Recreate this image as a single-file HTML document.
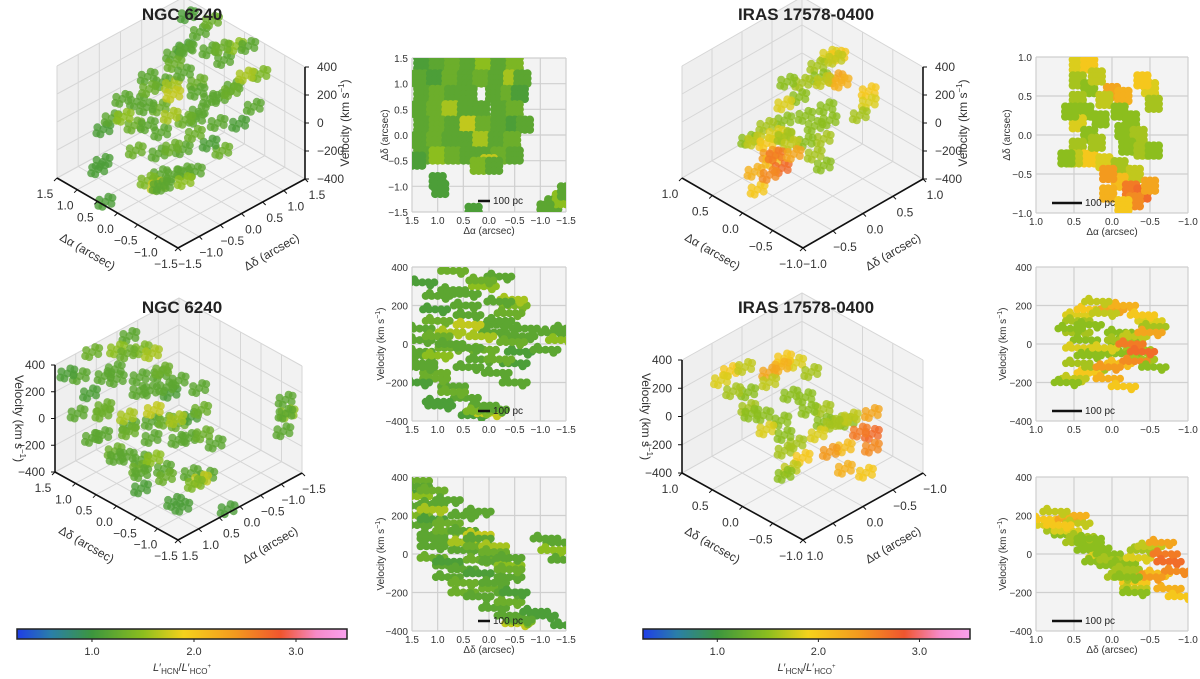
<!DOCTYPE html>
<html><head><meta charset="utf-8">
<style>
html,body{margin:0;padding:0;background:#fff;}
svg{display:block;font-family:"Liberation Sans",sans-serif;}
</style></head>
<body>
<svg id="fig" width="1200" height="679" viewBox="0 0 1200 679" xmlns="http://www.w3.org/2000/svg"></svg>
<script>
// ---------- DATA: NGC 6240 [dAlpha, dDelta, velocity, ratio] ----------
const ngcAlpha = [1.3,1.0,0.7,0.4,0.1,-0.2,-0.5, 1.35,1.05,0.75,0.45,0.15,-0.15,-0.45,-0.65, 1.3,1.0,0.7,0.4,-0.1,-0.4,-0.6, 1.35,1.05,0.75,0.45,0.15,-0.2,-0.5, 1.3,1.0,0.7,0.4,0.1,-0.2,-0.5,-0.7, 1.35,1.05,0.75,0.45,0.15,-0.15,-0.45, 1.3,1.0,0.7,0.4,0.1,-0.2,-0.5, 1.4,1.0,0.95,0.3,-1.25,-1.4,-1.5,-1.1,0.0,0.2,-0.1];
const ngcDelta = [1.4,1.4,1.4,1.4,1.4,1.4,1.4, 1.1,1.1,1.1,1.1,1.1,1.1,1.1,1.1, 0.8,0.8,0.8,0.8,0.8,0.8,0.8, 0.5,0.5,0.5,0.5,0.5,0.5,0.5, 0.2,0.2,0.2,0.2,0.2,0.2,0.2,0.2, -0.1,-0.1,-0.1,-0.1,-0.1,-0.1,-0.1, -0.4,-0.4,-0.4,-0.4,-0.4,-0.4,-0.4, -0.5,-0.9,-1.05,-1.5,-1.35,-1.25,-1.1,-1.45,-0.55,-0.6,-0.6];
const ngcVel = [320,250,380,150,300,350,200, 80,180,-20,260,330,100,230,40, -60,120,280,-120,60,160,-40, 20,-150,60,200,-80,120,-200, -100,40,-220,100,-30,220,-100,80, -40,-180,0,-280,40,-150,10, -120,-60,-250,-20,-320,-80,-200, -200,-300,-320,-370,60,20,80,-30,-360,-350,-340];
const ngcRatio = [1.1,1.2,1.3,1.2,1.5,1.2,1.4, 1.2,1.1,1.3,1.2,1.3,1.2,1.6,1.2, 1.2,1.3,1.2,1.2,1.2,1.3,1.1, 1.2,1.3,1.6,1.2,1.2,1.2,1.3, 1.2,1.3,1.2,1.7,1.3,1.2,1.1,1.2, 1.2,1.3,1.2,1.2,1.6,1.2,1.3, 1.2,1.5,1.3,1.2,1.2,1.3,1.2, 1.1,1.1,1.1,1.1,1.2,1.5,1.2,1.2,1.7,1.4,1.2];
// ---------- DATA: IRAS 17578-0400 ----------
const irasAlpha = [0.45,0.3,0.45,0.3,0.45,0.35,0.45,0.3,0.45,0.3,0.5,0.15,0.2,0.0,-0.15,0.1,-0.1,-0.25,-0.15,-0.35,-0.2,-0.4,-0.5,-0.4,-0.55,0.1,-0.1,-0.3,-0.1,-0.25,-0.4,-0.3,-0.5,0.05,-0.15,0.6,0.05,0.55,-0.55,0.2];
const irasDelta = [0.9,0.9,0.7,0.6,0.45,0.3,0.15,0.0,-0.15,-0.3,-0.3,0.2,-0.1,0.55,0.5,0.45,0.3,0.2,0.05,0.0,-0.15,-0.2,0.6,0.7,0.4,-0.35,-0.4,-0.5,-0.6,-0.7,-0.75,-0.85,-0.65,-0.75,-0.9,-0.3,-0.5,0.3,-0.2,0.75];
const irasVel = [150,180,120,100,60,20,-20,-60,-100,-150,-180,-40,-120,180,200,160,60,30,0,-30,-50,-80,120,150,90,-20,20,40,-100,0,-40,-90,60,-180,-220,-200,-120,80,-120,220];
const irasRatio = [1.8,2.0,1.6,1.5,1.6,1.5,1.8,1.5,1.6,2.0,1.7,1.5,1.6,2.3,2.2,1.7,1.5,1.5,1.5,1.6,1.5,1.6,1.8,2.0,1.6,1.8,1.6,1.7,2.1,2.6,2.7,2.5,2.3,2.2,2.0,1.5,2.4,1.5,1.5,1.7];
// ---------- Tick labels ----------
const ngcPosTicks = [-1.5,-1.0,-0.5,0.0,0.5,1.0,1.5];
const irasPosTicks = [-1.0,-0.5,0.0,0.5,1.0];
const velTicks = [-400,-200,0,200,400];
const cbarTicks = [1.0,2.0,3.0];

const NS='http://www.w3.org/2000/svg';
const svg=document.getElementById('fig');
function el(tag,attrs,parent){const e=document.createElementNS(NS,tag);for(const k in attrs)e.setAttribute(k,attrs[k]);(parent||svg).appendChild(e);return e;}
function fmt(v){return (v<0?'\u2212':'')+Math.abs(v).toFixed(1);}
function fmtI(v){return (v<0?'\u2212':'')+Math.abs(v);}

// colormap
const cmStops=[[0.27,[31,63,230]],[0.6,[42,127,168]],[1.0,[60,150,62]],[1.5,[140,190,30]],[1.9,[245,210,28]],[2.4,[243,154,30]],[2.85,[240,85,46]],[3.2,[246,138,200]],[3.5,[249,160,238]]];
function cmap(v){
  if(v<=cmStops[0][0])return 'rgb('+cmStops[0][1]+')';
  for(let i=1;i<cmStops.length;i++){if(v<=cmStops[i][0]){const a=cmStops[i-1],b=cmStops[i];const t=(v-a[0])/(b[0]-a[0]);return 'rgb('+a[1].map((c,j)=>Math.round(c+(b[1][j]-c)*t)).join(',')+')';}}
  return 'rgb('+cmStops[cmStops.length-1][1]+')';
}
// blob shapes (screen-space marker styling, not data)
const blob3D=[[0,0],[-6,-2],[6,2],[-3,5],[3,-5],[-7,4],[7,-4]];
const blobMap=[[-5,-5],[0,-5],[5,-5],[-5,0],[0,0],[5,0],[-5,5],[0,5],[5,5]];
const blobVel=[[-12,0],[-6,0],[0,0],[6,0],[12,0],[-8,-3],[8,3]];

function text(x,y,s,o,parent){o=o||{};const t=el('text',{x:x,y:y,'font-size':o.size||12,fill:o.fill||'#333','text-anchor':o.anchor||'middle'},parent);if(o.weight)t.setAttribute('font-weight',o.weight);if(o.rot!==undefined)t.setAttribute('transform','rotate('+o.rot+' '+x+' '+y+')');t.textContent=s;return t;}

// ---------- 3D panel ----------
function draw3D(cfg){
  const g=el('g',{});
  
  
  const F=cfg.F,L=cfg.L,R=cfg.R,H=cfg.H;
  const vL=[L[0]-F[0],L[1]-F[1]],vR=[R[0]-F[0],R[1]-F[1]];
  const P=(fl,fr,fv)=>[F[0]+fl*vL[0]+fr*vR[0],F[1]+fl*vL[1]+fr*vR[1]-fv*H];
  const pts=a=>a.map(p=>p[0].toFixed(1)+','+p[1].toFixed(1)).join(' ');
  el('polygon',{points:pts([P(0,0,0),P(1,0,0),P(1,1,0),P(0,1,0)]),fill:'#f4f4f4'},g);
  el('polygon',{points:pts([P(1,0,0),P(1,1,0),P(1,1,1),P(1,0,1)]),fill:'#efefef'},g);
  el('polygon',{points:pts([P(0,1,0),P(1,1,0),P(1,1,1),P(0,1,1)]),fill:'#f2f2f2'},g);
  const gl={stroke:'#d6d6d6','stroke-width':1,fill:'none'};
  const lt=cfg.leftTicks.map(cfg.lf), rt=cfg.rightTicks.map(cfg.rf), vt=velTicks.map(v=>(v+400)/800);
  lt.forEach(t=>{el('polyline',Object.assign({points:pts([P(t,0,0),P(t,1,0),P(t,1,1)])},gl),g);});
  rt.forEach(t=>{el('polyline',Object.assign({points:pts([P(0,t,0),P(1,t,0),P(1,t,1)])},gl),g);});
  vt.forEach(t=>{el('polyline',Object.assign({points:pts([P(1,0,t),P(1,1,t),P(0,1,t)])},gl),g);});
  const order=cfg.al.map((_,i)=>i).sort((i,j)=>(cfg.lfD(j)+cfg.rfD(j))-(cfg.lfD(i)+cfg.rfD(i)));
  order.forEach(i=>{
    const p=P(cfg.lfD(i),cfg.rfD(i),(cfg.vel[i]+400)/800);
    const pg=el('g',{fill:cmap(cfg.ratio[i]),'fill-opacity':0.8},g);
    
    
    blob3D.forEach(o=>el('circle',{cx:(p[0]+o[0]).toFixed(1),cy:(p[1]+o[1]).toFixed(1),r:4},pg));
  });
  const ax={stroke:'#111','stroke-width':1.6};
  el('line',Object.assign({x1:F[0],y1:F[1],x2:L[0],y2:L[1]},ax),g);
  el('line',Object.assign({x1:F[0],y1:F[1],x2:R[0],y2:R[1]},ax),g);
  const V=cfg.vSide==='right'?R:L;
  el('line',Object.assign({x1:V[0],y1:V[1],x2:V[0],y2:V[1]-H},ax),g);
  cfg.leftTicks.forEach(v=>{const t=cfg.lf(v);const p=P(t,0,0);
    el('line',{x1:p[0],y1:p[1],x2:p[0]-3,y2:p[1]+3,stroke:'#111','stroke-width':1},g);
    text(p[0]-12,p[1]+20,fmt(v),{},g);});
  cfg.rightTicks.forEach(v=>{const t=cfg.rf(v);const p=P(0,t,0);
    el('line',{x1:p[0],y1:p[1],x2:p[0]+3,y2:p[1]+3,stroke:'#111','stroke-width':1},g);
    text(p[0]+12,p[1]+20,fmt(v),{},g);});
  velTicks.forEach(v=>{const y=V[1]-(v+400)/800*H;
    if(cfg.vSide==='right'){el('line',{x1:V[0],y1:y,x2:V[0]+4,y2:y,stroke:'#111','stroke-width':1},g);text(V[0]+12,y+4,fmtI(v),{anchor:'start'},g);}
    else{el('line',{x1:V[0],y1:y,x2:V[0]-4,y2:y,stroke:'#111','stroke-width':1},g);text(V[0]-10,y+4,fmtI(v),{anchor:'end'},g);}
  });
  const m1=P(0.5,0,0),m2=P(0,0.5,0);
  text(m1[0]-32,m1[1]+42,cfg.leftLabel,{rot:30},g);
  text(m2[0]+32,m2[1]+42,cfg.rightLabel,{rot:-30},g);
  const vl=el('text',{'font-size':12,fill:'#333','text-anchor':'middle'},g);
  const vx=cfg.vSide==='right'?V[0]+44:V[0]-40, vy=V[1]-H/2;
  vl.setAttribute('transform','translate('+vx+' '+vy+') rotate('+(cfg.vSide==='right'?-90:90)+')');
  vl.innerHTML='Velocity (km s<tspan font-size="8" dy="-5">\u22121</tspan><tspan dy="5">)</tspan>';
  const tt=text(cfg.title[0],cfg.title[1],cfg.title[2],{size:17,weight:'bold',fill:'#222'},g);
  
  
}

const aN=v=>(v+1.5)/3, bN=v=>(1.5-v)/3, aI=v=>(v+1)/2, bI=v=>(1-v)/2;
draw3D({name:'ngc6240-3d-top',F:[178,248],L:[57,178],R:[305,179],H:112,vSide:'right',
  leftTicks:ngcPosTicks,rightTicks:ngcPosTicks,lf:aN,rf:aN,leftLabel:'\u0394\u03b1 (arcsec)',rightLabel:'\u0394\u03b4 (arcsec)',
  al:ngcAlpha,vel:ngcVel,ratio:ngcRatio,lfD:i=>aN(ngcAlpha[i]),rfD:i=>aN(ngcDelta[i]),title:[182,20,'NGC 6240']});
draw3D({name:'ngc6240-3d-bottom',F:[178,540],L:[55,472],R:[302,473],H:107,vSide:'left',
  leftTicks:ngcPosTicks,rightTicks:ngcPosTicks,lf:aN,rf:bN,leftLabel:'\u0394\u03b4 (arcsec)',rightLabel:'\u0394\u03b1 (arcsec)',
  al:ngcAlpha,vel:ngcVel,ratio:ngcRatio,lfD:i=>aN(ngcDelta[i]),rfD:i=>bN(ngcAlpha[i]),title:[182,313,'NGC 6240']});
draw3D({name:'iras-3d-top',F:[803,248],L:[682,178],R:[923,179],H:112,vSide:'right',
  leftTicks:irasPosTicks,rightTicks:irasPosTicks,lf:aI,rf:aI,leftLabel:'\u0394\u03b1 (arcsec)',rightLabel:'\u0394\u03b4 (arcsec)',
  al:irasAlpha,vel:irasVel,ratio:irasRatio,lfD:i=>aI(irasAlpha[i]),rfD:i=>aI(irasDelta[i]),title:[806,20,'IRAS 17578-0400']});
draw3D({name:'iras-3d-bottom',F:[803,540],L:[682,473],R:[923,473],H:113,vSide:'left',
  leftTicks:irasPosTicks,rightTicks:irasPosTicks,lf:aI,rf:bI,leftLabel:'\u0394\u03b4 (arcsec)',rightLabel:'\u0394\u03b1 (arcsec)',
  al:irasAlpha,vel:irasVel,ratio:irasRatio,lfD:i=>aI(irasDelta[i]),rfD:i=>bI(irasAlpha[i]),title:[806,313,'IRAS 17578-0400']});

// ---------- 2D panel ----------
function draw2D(cfg){
  const g=el('g',{});
  
  
  const x0=cfg.x,y0=cfg.y,w=cfg.w,h=cfg.h;
  const X=v=>x0+(cfg.xmax-v)/(cfg.xmax-cfg.xmin)*w;
  const Y=v=>y0+(cfg.ymax-v)/(cfg.ymax-cfg.ymin)*h;
  el('rect',{x:x0,y:y0,width:w,height:h,fill:'#f3f3f3'},g);
  cfg.xt.forEach(v=>{el('line',{x1:X(v),y1:y0,x2:X(v),y2:y0+h,stroke:'#cfcfcf','stroke-width':1.2},g);
    text(X(v),y0+h+12,cfg.xfmt(v),{size:10},g);});
  cfg.yt.forEach(v=>{el('line',{x1:x0,y1:Y(v),x2:x0+w,y2:Y(v),stroke:'#cfcfcf','stroke-width':1.2},g);
    text(x0-4,Y(v)+4,cfg.yfmt(v),{size:10,anchor:'end'},g);});
  const cl='clip-'+cfg.name;
  const cp=el('clipPath',{id:cl},g);el('rect',{x:x0,y:y0,width:w,height:h},cp);
  const dg=el('g',{'clip-path':'url(#'+cl+')'},g);
  cfg.xs.forEach((xv,i)=>{
    const cx=X(xv),cy=Y(cfg.ys[i]);
    const pg=el('g',{fill:cmap(cfg.ratio[i])},dg);
    
    
    cfg.blob.forEach(o=>el('circle',{cx:(cx+o[0]).toFixed(1),cy:(cy+o[1]).toFixed(1),r:cfg.r},pg));
  });
  const sb=cfg.sb;
  el('line',{x1:sb[0],y1:sb[2],x2:sb[1],y2:sb[2],stroke:'#111','stroke-width':2.5},g);
  text(sb[1]+3,sb[2]+3,'100 pc',{size:10,anchor:'start',fill:'#222'},g);
  if(cfg.xlabel)text(x0+w/2,y0+h+22,cfg.xlabel,{size:10},g);
  const yl=el('text',{'font-size':10,fill:'#333','text-anchor':'middle',transform:'translate('+(x0-cfg.ylo)+' '+(y0+h/2)+') rotate(-90)'},g);
  yl.innerHTML=cfg.ylabel;
}
const velLab='Velocity (km s<tspan font-size="7" dy="-4">\u22121</tspan><tspan dy="4">)</tspan>';
draw2D({name:'ngc6240-map',x:412,y:58,w:154,h:154,xmin:-1.5,xmax:1.5,ymin:-1.5,ymax:1.5,xt:ngcPosTicks,yt:ngcPosTicks,xfmt:fmt,yfmt:fmt,
  xs:ngcAlpha,ys:ngcDelta,ratio:ngcRatio,blob:blobMap,r:4.2,sb:[478,490,201],xlabel:'\u0394\u03b1 (arcsec)',ylabel:'\u0394\u03b4 (arcsec)',ylo:24});
draw2D({name:'ngc6240-alpha-velocity',x:412,y:267,w:154,h:154,xmin:-1.5,xmax:1.5,ymin:-400,ymax:400,xt:ngcPosTicks,yt:velTicks,xfmt:fmt,yfmt:fmtI,
  xs:ngcAlpha,ys:ngcVel,ratio:ngcRatio,blob:blobVel,r:4,sb:[478,490,411],xlabel:'',ylabel:velLab,ylo:28});
draw2D({name:'ngc6240-delta-velocity',x:412,y:477,w:154,h:154,xmin:-1.5,xmax:1.5,ymin:-400,ymax:400,xt:ngcPosTicks,yt:velTicks,xfmt:fmt,yfmt:fmtI,
  xs:ngcDelta,ys:ngcVel,ratio:ngcRatio,blob:blobVel,r:4,sb:[478,490,621],xlabel:'\u0394\u03b4 (arcsec)',ylabel:velLab,ylo:28});
draw2D({name:'iras-map',x:1036,y:57,w:152,h:156,xmin:-1,xmax:1,ymin:-1,ymax:1,xt:irasPosTicks,yt:irasPosTicks,xfmt:fmt,yfmt:fmt,
  xs:irasAlpha,ys:irasDelta,ratio:irasRatio,blob:blobMap,r:4.2,sb:[1052,1082,203],xlabel:'\u0394\u03b1 (arcsec)',ylabel:'\u0394\u03b4 (arcsec)',ylo:26});
draw2D({name:'iras-alpha-velocity',x:1036,y:267,w:152,h:154,xmin:-1,xmax:1,ymin:-400,ymax:400,xt:irasPosTicks,yt:velTicks,xfmt:fmt,yfmt:fmtI,
  xs:irasAlpha,ys:irasVel,ratio:irasRatio,blob:blobVel,r:3.8,sb:[1052,1082,411],xlabel:'',ylabel:velLab,ylo:30});
draw2D({name:'iras-delta-velocity',x:1036,y:477,w:152,h:154,xmin:-1,xmax:1,ymin:-400,ymax:400,xt:irasPosTicks,yt:velTicks,xfmt:fmt,yfmt:fmtI,
  xs:irasDelta,ys:irasVel,ratio:irasRatio,blob:blobVel,r:3.8,sb:[1052,1082,621],xlabel:'\u0394\u03b4 (arcsec)',ylabel:velLab,ylo:30});

// ---------- colorbars ----------
function colorbar(name,x0,x1){
  const g=el('g',{});
  
  
  const vmin=0.265,vmax=3.5,X=v=>x0+(v-vmin)/(vmax-vmin)*(x1-x0);
  const gid='grad-'+name;
  const defs=el('defs',{},g);const lg=el('linearGradient',{id:gid,x1:0,x2:1,y1:0,y2:0},defs);
  cmStops.forEach(s=>el('stop',{offset:((s[0]-vmin)/(vmax-vmin)).toFixed(3),'stop-color':cmap(s[0])},lg));
  el('rect',{x:x0,y:629,width:x1-x0,height:10,fill:'url(#'+gid+')',stroke:'#222','stroke-width':1.5},g);
  cbarTicks.forEach(v=>{el('line',{x1:X(v),y1:639,x2:X(v),y2:642,stroke:'#222'},g);text(X(v),655,v.toFixed(1),{size:11},g);});
  const t=el('text',{x:(x0+x1)/2,y:671,'font-size':11,fill:'#333','text-anchor':'middle'},g);
  t.innerHTML='<tspan font-style="italic">L</tspan>\u2032<tspan font-size="8" dy="3">HCN</tspan><tspan dy="-3">/</tspan><tspan font-style="italic">L</tspan>\u2032<tspan font-size="8" dy="3">HCO</tspan><tspan font-size="6" dy="-6">+</tspan>';
}
colorbar('colorbar-ngc6240',17,347);
colorbar('colorbar-iras',643,970);
</script>
</body></html>
